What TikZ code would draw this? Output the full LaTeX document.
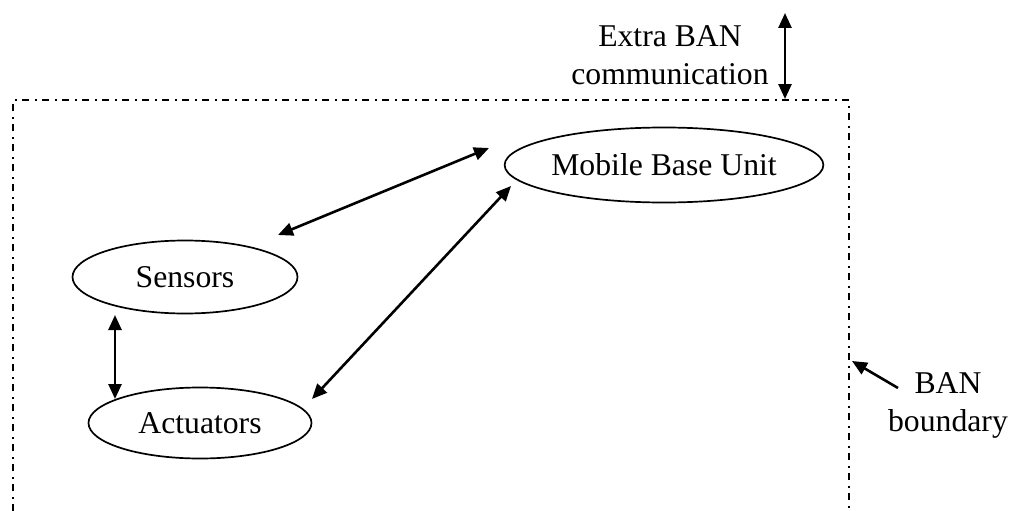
\documentclass[tikz,border=0pt]{standalone}
\usepackage{fontspec}
\setmainfont{Liberation Serif}
\usetikzlibrary{shapes.geometric,arrows.meta}
\begin{document}
\begin{tikzpicture}[x=1pt,y=-1pt,
  unit/.style={draw,ellipse,line width=1.7pt,inner sep=0pt,
    font=\fontsize{31.7}{38}\selectfont},
  link/.style={line width=2.6pt,{Triangle[length=15pt,width=13pt]}-{Triangle[length=15pt,width=13pt]}},
  pointer/.style={line width=2.6pt,-{Triangle[length=15pt,width=13pt]}},
  boundary/.style={line width=1.8pt,dash pattern=on 7pt off 5.5pt on 2pt off 5.5pt},
  label/.style={font=\fontsize{31.7}{38}\selectfont,inner sep=0pt}]
\useasboundingbox (0,0) rectangle (1014,511);

% BAN boundary (open at the bottom)
\draw[boundary] (13,511) -- (13,100) -- (849,100) -- (849,511);

% units
\node[unit,minimum width=308pt,minimum height=75pt] (mob) at (664,165) {Mobile Base Unit};
\node[unit,minimum width=225pt,minimum height=73pt] (sens) at (185,277) {Sensors};
\node[unit,minimum width=223pt,minimum height=71pt] (act) at (200,423) {Actuators};

% labels
\node[label,align=center,anchor=north] (extra) at (670,25) {Extra BAN\\communication};
\node[label,align=center,anchor=north] (bnd) at (948,372) {BAN\\boundary};

% connector end points
\coordinate (sm1) at (278,235);
\coordinate (sm2) at (489,148);
\coordinate (am1) at (312,399);
\coordinate (am2) at (511,186);
\coordinate (sa1) at (115,315);
\coordinate (sa2) at (115,399);
\coordinate (ex1) at (785,13);
\coordinate (ex2) at (785,99);
\coordinate (bp1) at (898,388);
\coordinate (bp2) at (852,361);

% connectors
\draw[link] (sm1) -- (sm2);
\draw[link] (am1) -- (am2);
\draw[link] (sa1) -- (sa2);
\draw[link] (ex1) -- (ex2);
\draw[pointer] (bp1) -- (bp2);
\end{tikzpicture}
\end{document}
